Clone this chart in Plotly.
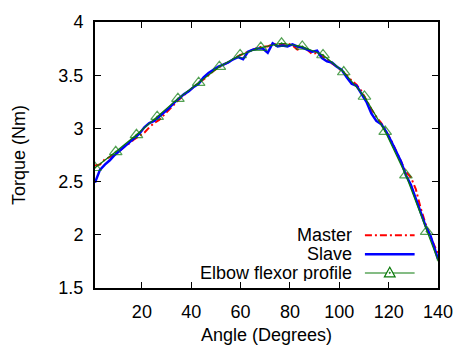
import plotly.graph_objects as go

# ---------------- data ----------------
angle_ms = [1, 3, 5, 7, 9, 11, 13, 15, 17, 19, 21, 23, 25, 27, 29, 31, 33, 35, 37, 39,
            41, 43, 45, 47, 49, 51, 53, 55, 57, 59, 61, 63, 65, 67, 69, 71, 73, 75, 77, 79,
            81, 83, 85, 87, 89, 91, 93, 95, 97, 99, 101, 103, 105, 107, 109, 111, 113, 115, 117, 119,
            121, 123, 125, 127, 129, 131, 133, 135, 137, 139, 140]

master = [2.65, 2.66, 2.71, 2.73, 2.76, 2.79, 2.83, 2.86, 2.90, 2.93,
          2.96, 3.01, 3.05, 3.08, 3.13, 3.17, 3.22, 3.27, 3.31, 3.35,
          3.39, 3.43, 3.46, 3.50, 3.54, 3.57, 3.60, 3.62, 3.65, 3.68,
          3.70, 3.72, 3.74, 3.76, 3.77, 3.77, 3.79, 3.79, 3.79, 3.80,
          3.78, 3.74, 3.76, 3.74, 3.70, 3.71, 3.68, 3.65, 3.61, 3.58,
          3.54, 3.50, 3.45, 3.41, 3.35, 3.26, 3.18, 3.11, 3.05, 2.97,
          2.89, 2.79, 2.69, 2.59, 2.54, 2.43, 2.25, 2.10, 1.98, 1.88, 1.82]

slave = [2.49, 2.61, 2.66, 2.70, 2.75, 2.79, 2.83, 2.87, 2.91, 2.95,
         3.01, 3.05, 3.07, 3.11, 3.15, 3.19, 3.24, 3.28, 3.32, 3.35,
         3.39, 3.42, 3.48, 3.52, 3.55, 3.58, 3.60, 3.62, 3.65, 3.67,
         3.65, 3.72, 3.74, 3.75, 3.75, 3.71, 3.80, 3.77, 3.78, 3.77,
         3.79, 3.77, 3.76, 3.74, 3.72, 3.73, 3.66, 3.63, 3.62, 3.58,
         3.55, 3.48, 3.42, 3.40, 3.33, 3.25, 3.14, 3.07, 3.04, 2.97,
         2.88, 2.79, 2.69, 2.56, 2.47, 2.34, 2.21, 2.08, 1.99, 1.85, 1.77]

angle_profile = [1, 9.4, 17.8, 26.2, 34.6, 43, 51.4, 59.8, 68.2, 76.6,
                 85, 93.4, 101.8, 110.2, 118.6, 127, 135.4, 140]
profile = [2.63, 2.78, 2.94, 3.11, 3.28, 3.43, 3.58, 3.69, 3.76, 3.80,
           3.77, 3.69, 3.53, 3.30, 2.97, 2.56, 2.03, 1.76]

x_ticks = [20, 40, 60, 80, 100, 120, 140]
y_ticks = [1.5, 2, 2.5, 3, 3.5, 4]
y_tick_labels = ["1.5", "2", "2.5", "3", "3.5", "4"]
series_names = ["Master", "Slave", "Elbow flexor profile"]

# ---------------- styling ----------------
W, H = 465, 351
L, R, T, B = 95, 447, 13, 288
FONT = "Liberation Sans, Arial, sans-serif"
FS = 18
RED, BLUE, GREEN = "#ff0000", "#0000ff", "#0b7a0b"

fig = go.Figure()
fig.add_trace(go.Scatter(x=angle_ms, y=master, mode="lines", name=series_names[0],
                         line=dict(color=RED, width=2, dash="7px,3px,2px,3px"),
                         showlegend=False))
fig.add_trace(go.Scatter(x=angle_ms, y=slave, mode="lines", name=series_names[1],
                         line=dict(color=BLUE, width=2.5), showlegend=False))
sizes = [11] * (len(angle_profile) - 1) + [0]
fig.add_trace(go.Scatter(x=angle_profile, y=profile, mode="lines+markers", name=series_names[2],
                         line=dict(color=GREEN, width=1.2),
                         marker=dict(symbol="triangle-up-open-dot", size=sizes,
                                     color=GREEN, line=dict(color=GREEN, width=1.2)),
                         showlegend=False))

def px(x):
    return (x - L) / (R - L)

def py(y):
    return (B - y) / (B - T)

shapes = []
annotations = []
rows = [233.5, 253, 272.5]
text_right = 360
x0, x1 = 372, 423
styles = [dict(color=RED, width=2, dash="7px,3px,2px,3px"),
          dict(color=BLUE, width=2.5),
          dict(color=GREEN, width=1.2)]
for name, yy, st in zip(series_names, rows, styles):
    annotations.append(dict(text=name, x=px(text_right), y=py(yy), xref="paper", yref="paper",
                            xanchor="right", yanchor="middle", showarrow=False, height=16,
                            borderpad=0,
                            font=dict(family=FONT, size=FS, color="black")))
    shapes.append(dict(type="line", xref="paper", yref="paper",
                       x0=px(x0), x1=px(x1), y0=py(yy), y1=py(yy), line=st))
# triangle sample for the profile legend entry
cx, cy = 397.5, rows[2]
tri = "M {} {} L {} {} L {} {} Z".format(px(cx - 5.5), py(cy + 4), px(cx + 5.5), py(cy + 4),
                                         px(cx), py(cy - 6))
shapes.append(dict(type="path", xref="paper", yref="paper", path=tri,
                   line=dict(color=GREEN, width=1.2), fillcolor="white"))
shapes.append(dict(type="circle", xref="paper", yref="paper",
                   x0=px(cx - 0.6), x1=px(cx + 0.6), y0=py(cy + 0.4), y1=py(cy - 0.8),
                   line=dict(color=GREEN, width=1), fillcolor=GREEN))

# axis titles
annotations.append(dict(text="Angle (Degrees)", x=0.5, y=py(337), xref="paper", yref="paper",
                        xanchor="center", yanchor="middle", showarrow=False,
                        font=dict(family=FONT, size=FS, color="black")))
annotations.append(dict(text="Torque (Nm)", x=px(17), y=0.5, xref="paper", yref="paper",
                        xanchor="center", yanchor="middle", showarrow=False, textangle=-90,
                        font=dict(family=FONT, size=FS, color="black")))

axis_common = dict(showgrid=False, zeroline=False, showline=True, linecolor="black",
                   linewidth=2, mirror="allticks", ticks="inside", ticklen=6,
                   tickwidth=1, tickcolor="black",
                   tickfont=dict(family=FONT, size=FS, color="black"))

fig.update_layout(
    width=W, height=H,
    margin=dict(l=L, r=W - R, t=T, b=H - B, pad=0),
    paper_bgcolor="white", plot_bgcolor="white",
    showlegend=False,
    shapes=shapes, annotations=annotations,
    xaxis=dict(range=[1, 140], tickvals=x_ticks, ticktext=[str(v) for v in x_ticks],
               ticklabelstandoff=6, **axis_common),
    yaxis=dict(range=[1.5, 4], tickvals=y_ticks, ticktext=y_tick_labels,
               ticklabelstandoff=6, **axis_common),
)

fig.write_html("out.html")
